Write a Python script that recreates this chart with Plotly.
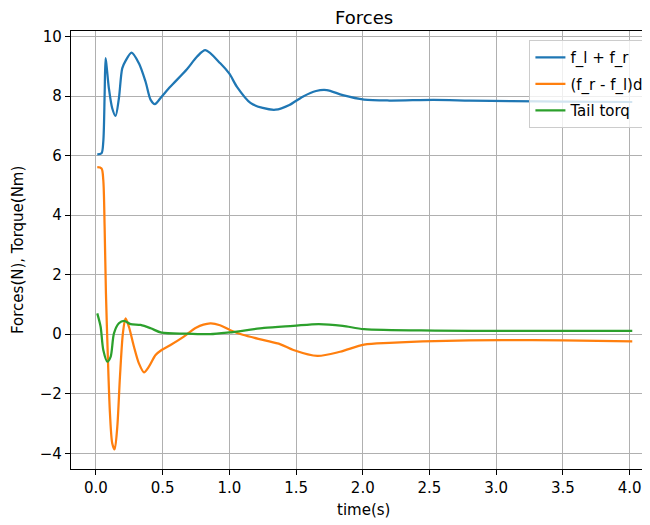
import plotly.graph_objects as go

# ---- data ----
t_sum = [0.01, 0.042, 0.055, 0.065, 0.072, 0.08, 0.097, 0.122, 0.147, 0.172, 0.197, 0.222,
         0.267, 0.322, 0.372, 0.41, 0.442, 0.492, 0.557, 0.682, 0.757, 0.82, 0.932, 1.0,
         1.057, 1.158, 1.25, 1.346, 1.45, 1.55, 1.65, 1.73, 1.85, 2.01, 2.2, 2.53, 2.8,
         3.11, 3.5, 4.02]
f_sum = [6.04, 6.08, 6.47, 8.03, 9.27, 9.0, 8.26, 7.59, 7.33, 7.92, 8.93, 9.18,
         9.46, 9.1, 8.48, 7.87, 7.73, 7.98, 8.31, 8.9, 9.32, 9.54, 9.1, 8.75,
         8.31, 7.77, 7.6, 7.54, 7.7, 7.98, 8.17, 8.2, 8.03, 7.88, 7.85, 7.87, 7.85,
         7.83, 7.81, 7.80]

t_diff = [0.01, 0.042, 0.055, 0.065, 0.075, 0.09, 0.105, 0.122, 0.14, 0.16, 0.18, 0.202,
          0.222, 0.247, 0.285, 0.322, 0.36, 0.397, 0.447, 0.492, 0.556, 0.656, 0.75,
          0.857, 0.93, 1.007, 1.1, 1.258, 1.383, 1.48, 1.66, 1.83, 2.01, 2.2, 2.54,
          3.04, 3.5, 4.02]
f_diff = [5.61, 5.57, 5.18, 3.61, 1.37, -0.87, -2.66, -3.66, -3.87, -3.11, -1.43, 0.03,
          0.53, 0.25, -0.42, -0.98, -1.28, -1.09, -0.7, -0.53, -0.37, -0.09, 0.22,
          0.36, 0.3, 0.135, -0.02, -0.2, -0.34, -0.53, -0.73, -0.59, -0.35, -0.29, -0.23,
          -0.2, -0.21, -0.24]

t_tail = [0.01, 0.035, 0.055, 0.085, 0.11, 0.135, 0.172, 0.21, 0.26, 0.334, 0.41, 0.492,
          0.68, 0.857, 1.0, 1.26, 1.48, 1.67, 1.85, 2.01, 2.54, 3.0, 4.02]
tail = [0.70, 0.25, -0.53, -0.92, -0.76, 0.03, 0.37, 0.45, 0.34, 0.31, 0.2, 0.05,
        0.02, 0.0, 0.06, 0.21, 0.28, 0.34, 0.28, 0.17, 0.12, 0.11, 0.11]

series_names = ["f_l + f_r", "(f_r - f_l)d", "Tail torq"]

x_ticks = [0.0, 0.5, 1.0, 1.5, 2.0, 2.5, 3.0, 3.5, 4.0]
x_tick_labels = ["0.0", "0.5", "1.0", "1.5", "2.0", "2.5", "3.0", "3.5", "4.0"]
y_ticks = [-4, -2, 0, 2, 4, 6, 8, 10]
y_tick_labels = ["\u22124", "\u22122", "0", "2", "4", "6", "8", "10"]

FONT = "DejaVu Sans"
colors = ["#1f77b4", "#ff7f0e", "#2ca02c"]

fig = go.Figure()
for i, ((xs, ys), name, c) in enumerate(zip([(t_sum, f_sum), (t_diff, f_diff), (t_tail, tail)],
                                             series_names, colors)):
    fig.add_trace(go.Scatter(x=xs, y=ys, mode="lines", name=name, legendgroup=f"g{i}",
                             line=dict(color=c, width=2.25, shape="spline", smoothing=0.8)))

axis_common = dict(
    showgrid=True, gridcolor="#b0b0b0", gridwidth=1.2, zeroline=False,
    showline=True, linecolor="black", linewidth=1.2,
    ticks="outside", ticklen=5, tickwidth=1.2, tickcolor="black",
    tickfont=dict(family=FONT, size=15, color="black"),
)

fig.update_layout(
    width=642, height=517,
    margin=dict(l=63, r=0, t=23, b=56),
    paper_bgcolor="white", plot_bgcolor="white",
    font=dict(family=FONT, size=15, color="black"),
    showlegend=True,
    legend=dict(x=0.999, y=0.979, xanchor="right", yanchor="top",
                bgcolor="rgba(255,255,255,0.8)", bordercolor="#cccccc", borderwidth=1,
                font=dict(family=FONT, size=15, color="black"), tracegroupgap=4),
    xaxis=dict(range=[-0.187, 4.153], tickvals=x_ticks, ticktext=x_tick_labels,
               mirror=True, **axis_common),
    yaxis=dict(range=[-4.528, 10.185], tickvals=y_ticks, ticktext=y_tick_labels,
               **axis_common),
    annotations=[
        dict(text="Forces", xref="paper", yref="paper", x=0.506, y=1.0308,
             xanchor="center", yanchor="middle", showarrow=False,
             font=dict(family=FONT, size=18, color="black")),
        dict(text="time(s)", xref="paper", yref="paper", x=0.506, y=-0.0936,
             xanchor="center", yanchor="middle", showarrow=False,
             font=dict(family=FONT, size=15, color="black")),
        dict(text="Forces(N), Torque(Nm)", xref="paper", yref="paper", x=-0.0915, y=0.5,
             xanchor="center", yanchor="middle", showarrow=False, textangle=-90,
             font=dict(family=FONT, size=15, color="black")),
    ],
)

fig.write_html("out.html")
